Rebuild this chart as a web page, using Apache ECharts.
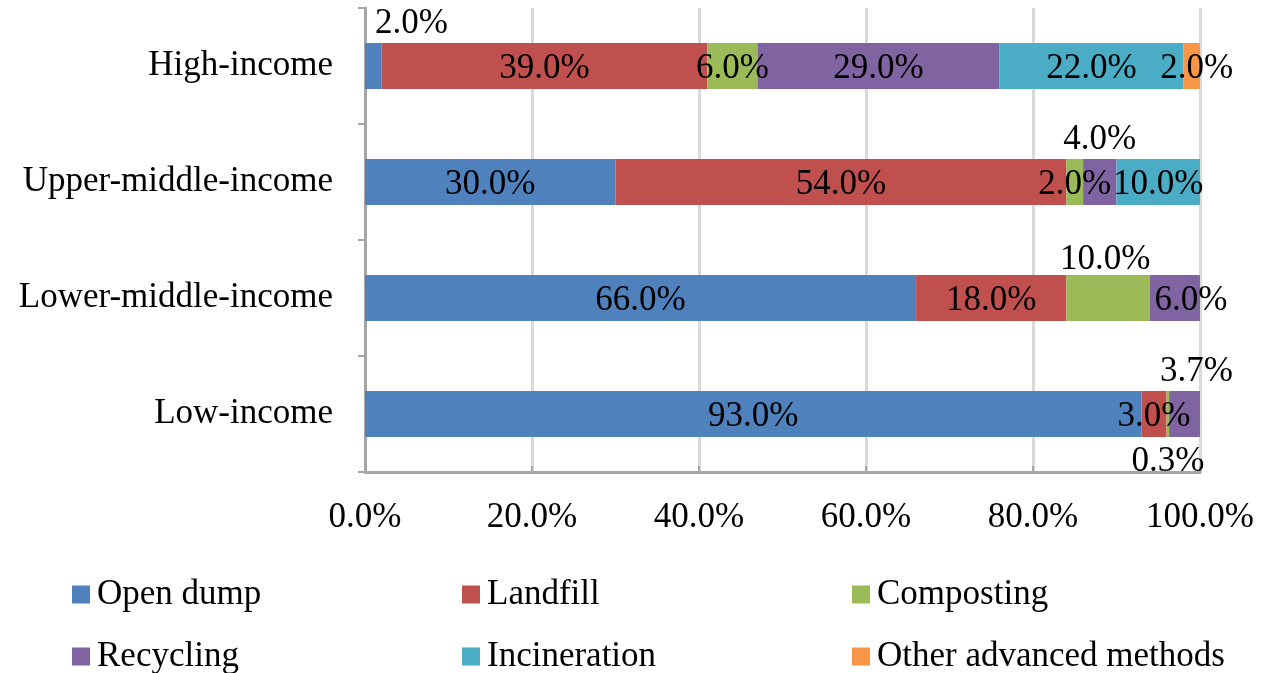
<!DOCTYPE html>
<html>
<head>
<meta charset="utf-8">
<script src="https://cdn.jsdelivr.net/npm/echarts@6/dist/echarts.min.js"></script>
<style>
  html, body { margin: 0; padding: 0; background: #fff; }
  #chart { width: 1261px; height: 673px; }
</style>
</head>
<body>
<div id="chart"></div>
<script>
// categories, bottom to top
const incomeGroups = ['Low-income', 'Lower-middle-income', 'Upper-middle-income', 'High-income']
const methodNames = ['Open dump', 'Landfill', 'Composting', 'Recycling', 'Incineration', 'Other advanced methods']
const methodColors = ['#4F81BD', '#C0504D', '#9BBB59', '#8064A2', '#4BACC6', '#F79646']

// shares in percent, in incomeGroups order
const openDump = [93.0, 66.0, 30.0, 2.0]
const landfill = [3.0, 18.0, 54.0, 39.0]
const composting = [0.3, 10.0, 2.0, 6.0]
const recycling = [3.7, 6.0, 4.0, 29.0]
const incineration = [null, null, 10.0, 22.0]
const otherAdvanced = [null, null, null, 2.0]

const xTicks = [0, 20, 40, 60, 80, 100]

const seriesValues = [openDump, landfill, composting, recycling, incineration, otherAdvanced]

// labels that were moved by hand: [series]-[category] -> label tweaks
const labelTweaks = {
  '0-3': { position: 'top', distance: 4, offset: [38, 2] },
  '2-0': { position: 'bottom', distance: 4, offset: [0, 3] },
  '3-0': { position: 'top', distance: 4, offset: [12, 2] },
  '2-1': { position: 'top', distance: 0, offset: [-3, 2] },
  '3-1': { offset: [16, 3] },
  '3-2': { position: 'top', distance: 4, offset: [0, 2] },
  '5-3': { offset: [5, 3] }
}

const font = 'Liberation Serif'
const fontSize = 35

const chart = echarts.init(document.getElementById('chart'))

const series = seriesValues.map((vals, s) => ({
  name: methodNames[s],
  type: 'bar',
  stack: 'total',
  barWidth: 46,
  itemStyle: { color: methodColors[s] },
  label: {
    show: true,
    position: 'inside',
    offset: [0, 3],
    color: '#000',
    fontFamily: font,
    fontSize: fontSize,
    formatter: p => p.value.toFixed(1) + '%'
  },
  data: vals.map((v, c) => {
    const tw = labelTweaks[s + '-' + c]
    return tw ? { value: v, label: tw } : v
  })
}))

const legendLeft = [72, 462, 852]
const legendTop = [577, 639]
const legends = methodNames.map((name, i) => ({
  data: [name],
  left: legendLeft[i % 3],
  top: legendTop[Math.floor(i / 3)],
  padding: 0,
  itemWidth: 18,
  itemHeight: 18,
  itemGap: 0,
  icon: 'rect',
  textStyle: { fontFamily: font, fontSize: fontSize, color: '#000', padding: [0, 0, 0, 2] }
}))

chart.setOption({
  animation: false,
  backgroundColor: '#fff',
  grid: { left: 365, right: 61, top: 8, bottom: 201 },
  legend: legends,
  xAxis: {
    type: 'value',
    min: 0,
    max: 100,
    interval: 20,
    axisLine: { show: true, lineStyle: { color: '#a6a6a6', width: 3 } },
    axisTick: { show: true, inside: true, length: 6, lineStyle: { color: '#a6a6a6', width: 2 } },
    splitLine: { lineStyle: { color: '#d9d9d9', width: 3 } },
    axisLabel: {
      margin: 28,
      fontFamily: font,
      fontSize: fontSize,
      color: '#000',
      formatter: v => (xTicks.includes(v) ? v.toFixed(1) + '%' : '')
    }
  },
  yAxis: {
    type: 'category',
    data: incomeGroups,
    axisLine: { show: true, lineStyle: { color: '#a6a6a6', width: 3 } },
    axisTick: { show: true, length: 7, lineStyle: { color: '#a6a6a6', width: 2 } },
    axisLabel: { margin: 32, padding: [6, 0, 0, 0], fontFamily: font, fontSize: fontSize, color: '#000' }
  },
  series: series
})
</script>
</body>
</html>
